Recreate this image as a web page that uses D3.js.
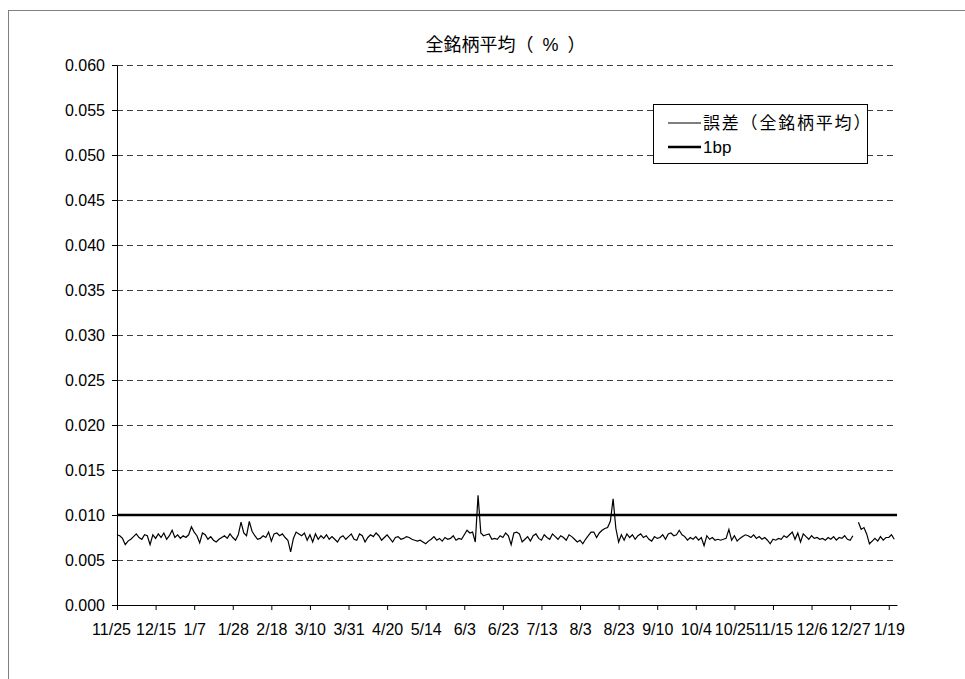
<!DOCTYPE html>
<html>
<head>
<meta charset="utf-8">
<script src="https://cdnjs.cloudflare.com/ajax/libs/d3/7.8.5/d3.min.js"></script>
<style>
  body { margin: 0; background: #fff; }
  svg text { font-family: "Liberation Sans", Arial, "Noto Sans CJK JP", sans-serif; fill: #000; }
</style>
</head>
<body>
<div id="chart"></div>
<script>
// Category labels (every 14th trading day)
const dateLabels = ["11/25", "12/15", "1/7", "1/28", "2/18", "3/10", "3/31", "4/20", "5/14", "6/3",
  "6/23", "7/13", "8/3", "8/23", "9/10", "10/4", "10/25", "11/15", "12/6", "12/27", "1/19"];
const labelStep = 14;

// Daily error, all-stock average (%)
const errorValues = [
  0.0078, 0.0077, 0.0074, 0.0067, 0.0071, 0.0073, 0.0076, 0.0079, 0.0075, 0.0073, 0.0078, 0.0077, 0.0067, 0.0078,
  0.0074, 0.0079, 0.0075, 0.0080, 0.0073, 0.0077, 0.0083, 0.0075, 0.0078, 0.0074, 0.0077, 0.0075, 0.0078, 0.0087,
  0.0081, 0.0077, 0.0069, 0.0080, 0.0078, 0.0073, 0.0076, 0.0072, 0.0070, 0.0073, 0.0075, 0.0077, 0.0074, 0.0079,
  0.0075, 0.0072, 0.0078, 0.0092, 0.0080, 0.0077, 0.0093, 0.0082, 0.0077, 0.0073, 0.0074, 0.0077, 0.0075, 0.0081,
  0.0071, 0.0079, 0.0080, 0.0077, 0.0079, 0.0075, 0.0072, 0.0059, 0.0074, 0.0081, 0.0079, 0.0077, 0.0080, 0.0072,
  0.0078, 0.0070, 0.0079, 0.0073, 0.0077, 0.0074, 0.0078, 0.0073, 0.0076, 0.0073, 0.0070, 0.0075, 0.0077, 0.0073,
  0.0076, 0.0079, 0.0073, 0.0072, 0.0079, 0.0077, 0.0070, 0.0075, 0.0078, 0.0076, 0.0080, 0.0077, 0.0072, 0.0075,
  0.0078, 0.0074, 0.0070, 0.0075, 0.0076, 0.0073, 0.0074, 0.0076, 0.0075, 0.0073, 0.0072, 0.0071, 0.0072, 0.0070,
  0.0068, 0.0071, 0.0073, 0.0076, 0.0072, 0.0074, 0.0071, 0.0075, 0.0073, 0.0074, 0.0077, 0.0072, 0.0074, 0.0073,
  0.0078, 0.0083, 0.0080, 0.0081, 0.0070, 0.0122, 0.0080, 0.0077, 0.0078, 0.0079, 0.0073, 0.0074, 0.0073, 0.0077,
  0.0075, 0.0080, 0.0077, 0.0067, 0.0080, 0.0081, 0.0079, 0.0070, 0.0073, 0.0076, 0.0071, 0.0077, 0.0079, 0.0074,
  0.0072, 0.0078, 0.0075, 0.0073, 0.0079, 0.0076, 0.0073, 0.0077, 0.0075, 0.0072, 0.0078, 0.0076, 0.0073, 0.0070,
  0.0072, 0.0068, 0.0073, 0.0077, 0.0081, 0.0081, 0.0075, 0.0080, 0.0083, 0.0085, 0.0086, 0.0093, 0.0118, 0.0085,
  0.0070, 0.0078, 0.0072, 0.0079, 0.0075, 0.0078, 0.0073, 0.0077, 0.0079, 0.0075, 0.0077, 0.0073, 0.0071, 0.0076,
  0.0074, 0.0075, 0.0078, 0.0073, 0.0079, 0.0080, 0.0077, 0.0078, 0.0083, 0.0078, 0.0076, 0.0072, 0.0075, 0.0073,
  0.0076, 0.0072, 0.0075, 0.0066, 0.0077, 0.0073, 0.0075, 0.0072, 0.0073, 0.0072, 0.0073, 0.0074, 0.0084, 0.0072,
  0.0077, 0.0071, 0.0074, 0.0076, 0.0078, 0.0077, 0.0075, 0.0078, 0.0074, 0.0076, 0.0073, 0.0075, 0.0072, 0.0068,
  0.0073, 0.0072, 0.0074, 0.0073, 0.0077, 0.0075, 0.0078, 0.0081, 0.0073, 0.0080, 0.0070, 0.0079, 0.0076, 0.0073,
  0.0077, 0.0074, 0.0075, 0.0073, 0.0074, 0.0072, 0.0075, 0.0073, 0.0076, 0.0072, 0.0075, 0.0074, 0.0077, 0.0073,
  0.0072, 0.0077, null, 0.0092, 0.0084, 0.0086, 0.0079, 0.0068, 0.0071, 0.0074, 0.0071, 0.0076, 0.0072, 0.0075,
  0.0075, 0.0078, 0.0073
];

const oneBp = 0.010;
const yTicks = [0, 0.005, 0.010, 0.015, 0.020, 0.025, 0.030, 0.035, 0.040, 0.045, 0.050, 0.055, 0.060];
const titleMain = "全銘柄平均";
const titleUnit = "（%）";
const seriesNames = ["誤差（全銘柄平均）", "1bp"];

// Dimensions
const margin = {top: 65, right: 68, bottom: 74, left: 117},
      width = 965 - margin.left - margin.right,
      height = 679 - margin.top - margin.bottom;

const root = d3.select("#chart")
    .append("svg")
    .attr("width", 965)
    .attr("height", 679);

// Outer frame (runs past the window like the original)
root.append("rect")
    .attr("x", 8.5)
    .attr("y", 10.5)
    .attr("width", 1000)
    .attr("height", 700)
    .attr("fill", "none")
    .attr("stroke", "#808080")
    .attr("stroke-width", 1);

const svg = root.append("g")
    .attr("transform", `translate(${margin.left},${margin.top})`);

const n = errorValues.length;
const x = d3.scaleLinear()
    .domain([0, n])
    .range([0, width]);

const y = d3.scaleLinear()
    .domain([0, 0.060])
    .range([height, 0]);

// Dashed horizontal grid lines
svg.selectAll(".yGrid")
    .data(yTicks.slice(1))
    .join("line")
    .attr("class", "yGrid")
    .attr("x1", 0)
    .attr("x2", width)
    .attr("y1", d => Math.round(y(d)) + 0.5)
    .attr("y2", d => Math.round(y(d)) + 0.5)
    .attr("stroke", "#404040")
    .attr("stroke-width", 1)
    .attr("stroke-dasharray", "6,4");

// X axis
const xAxis = d3.axisBottom(x)
    .tickValues(dateLabels.map((d, i) => i * labelStep))
    .tickFormat((d, i) => dateLabels[i])
    .tickSize(5)
    .tickSizeOuter(0)
    .tickPadding(14);
const gx = svg.append("g")
    .attr("transform", `translate(0,${height})`)
    .call(xAxis);
gx.selectAll("text").style("font-size", "16px");
// first label sits a little left of the axis origin, as in the original
gx.selectAll("text").filter((d, i) => i === 0).attr("dx", -6);
gx.select(".domain").attr("stroke", "#000");

// Y axis
const yAxis = d3.axisLeft(y)
    .tickValues(yTicks)
    .tickFormat(d3.format(".3f"))
    .tickSize(5)
    .tickSizeOuter(0)
    .tickPadding(7);
const gy = svg.append("g").call(yAxis);
gy.selectAll("text").style("font-size", "16px");

// 1bp reference line
svg.append("line")
    .attr("x1", 0)
    .attr("x2", width)
    .attr("y1", y(oneBp))
    .attr("y2", y(oneBp))
    .attr("stroke", "#000")
    .attr("stroke-width", 2.5);

// Error series
svg.append("path")
    .datum(errorValues)
    .attr("fill", "none")
    .attr("stroke", "#000")
    .attr("stroke-width", 1.2)
    .attr("d", d3.line()
        .defined(d => d != null)
        .x((d, i) => x(i))
        .y(d => y(d))
    );

// Title
const title = root.append("text")
    .attr("x", 510)
    .attr("y", 51)
    .style("text-anchor", "middle")
    .style("font-size", "18px");
title.append("tspan").text(titleMain);
title.append("tspan").style("letter-spacing", "9px").text(titleUnit);

// Legend
const legend = root.append("g").attr("transform", "translate(653,104)");
legend.append("rect")
    .attr("x", 0.5)
    .attr("y", 0.5)
    .attr("width", 214)
    .attr("height", 59)
    .attr("fill", "#fff")
    .attr("stroke", "#000");
[1.2, 2.5].forEach((w, i) => {
    legend.append("line")
        .attr("x1", 15)
        .attr("x2", 48)
        .attr("y1", 19 + i * 24)
        .attr("y2", 19 + i * 24)
        .attr("stroke", "#000")
        .attr("stroke-width", w);
    legend.append("text")
        .attr("x", 50)
        .attr("y", 25 + i * 24)
        .style("font-size", "17px")
        .style("letter-spacing", i === 0 ? "1.8px" : "0px")
        .text(seriesNames[i]);
});
</script>
</body>
</html>
